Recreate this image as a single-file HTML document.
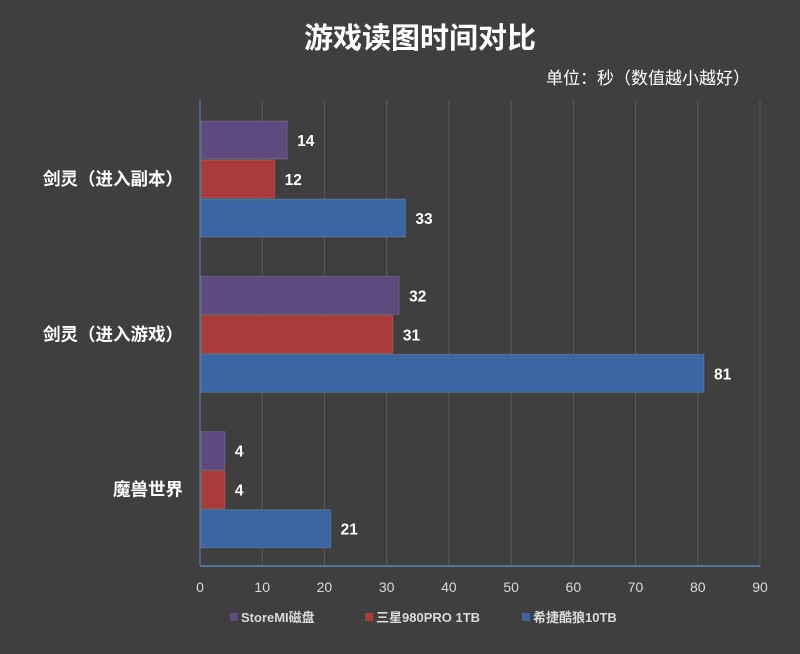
<!DOCTYPE html>
<html><head><meta charset="utf-8"><style>
body{margin:0;width:800px;height:649px;background:#3f3f3f;overflow:hidden}
text{font-family:"Liberation Sans","Noto Sans CJK SC",sans-serif}
</style></head><body>
<svg id="c" width="800" height="649">
<text x="420" y="48" text-anchor="middle" font-size="29" font-weight="bold" fill="#fff">游戏读图时间对比</text>
<text x="750" y="84" text-anchor="end" font-size="17" fill="#fff">单位：秒（数值越小越好）</text>
</svg>
<script>
const categories=["剑灵（进入副本）","剑灵（进入游戏）","魔兽世界"];
const seriesNames=["StoreMI磁盘","三星980PRO 1TB","希捷酷狼10TB"];
const storeMI=[14,32,4];
const samsung=[12,31,4];
const seagate=[33,81,21];
const ticks=[0,10,20,30,40,50,60,70,80,90];
const colors=["#5e4a7e","#a93b3a","#3a67a4"];
const svg=document.getElementById('c');const NS="http://www.w3.org/2000/svg";
const x0=200,x1=760,yTop=100,yBot=566,maxV=90;
const xs=v=>x0+(v/maxV)*(x1-x0);
function mk(t,a,p){const e=document.createElementNS(NS,t);for(const k in a)e.setAttribute(k,a[k]);(p||svg).appendChild(e);return e;}
ticks.forEach(t=>{
 const g=mk('line',{x1:xs(t),x2:xs(t),y1:yTop,y2:yBot,stroke:t===0?'#5b86c0':'#5a5a5a','stroke-width':1});
 
 
 const l=mk('text',{x:xs(t),y:592,'text-anchor':'middle','font-size':14,fill:'#d9d9d9'});l.textContent=t;
 
 
});
const ax=mk('line',{x1:x0,x2:x1,y1:yBot,y2:yBot,stroke:'#5b86c0','stroke-width':1.5});


const series=[storeMI,samsung,seagate];
const groupH=(yBot-yTop)/categories.length;
const barH=38;
categories.forEach((c,i)=>{
 const gTop=yTop+i*groupH+21;
 const lab=mk('text',{x:183,y:gTop+barH*1.5+7,'text-anchor':'end','font-size':17.5,'font-weight':'bold',fill:'#fff'});lab.textContent=c;
 
 
 series.forEach((s,j)=>{
  const y=gTop+j*(barH+1);
  const r=mk('rect',{x:x0+1,y:y,width:xs(s[i])-x0-1,height:barH,fill:colors[j],stroke:'rgba(255,255,255,0.15)'});
  
  
  const v=mk('text',{x:xs(s[i])+10,y:y+barH/2+6,'font-size':15.5,'font-weight':'bold',fill:'#fff'});v.textContent=s[i];
  
  
 });
});
const lx=[230,365,522];
seriesNames.forEach((n,j)=>{
 const r=mk('rect',{x:lx[j],y:613,width:8,height:8,fill:colors[j]});
 
 
 const t=mk('text',{x:lx[j]+11,y:622,'font-size':13,'font-weight':'bold',fill:'#d9d9d9'});t.textContent=n;
 
 
});
</script>
</body></html>
